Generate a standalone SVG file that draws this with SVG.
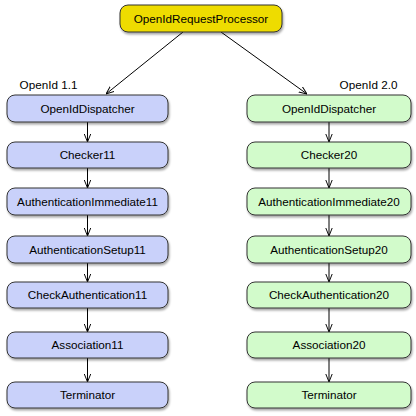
<svg xmlns="http://www.w3.org/2000/svg" width="416" height="416" viewBox="0 0 416 416">
<defs>
<filter id="sh" x="-10%" y="-20%" width="120%" height="160%">
<feDropShadow dx="1" dy="2" stdDeviation="1.2" flood-color="#000" flood-opacity="0.35"/>
</filter>
<marker id="ah" viewBox="0 0 10 10" refX="10" refY="5" markerWidth="8" markerHeight="8" markerUnits="userSpaceOnUse" orient="auto">
<path d="M0,1 L10,5 L0,9" fill="none" stroke="#000" stroke-width="1.2"/>
</marker>
<style>
.n rect{stroke:#333;stroke-width:1;filter:url(#sh)}
.b rect{fill:#c9d1fa}
.g rect{fill:#d2fbcb}
.y rect{fill:#eedc00}
text{font-family:"Liberation Sans",Arial,sans-serif;font-size:11.7px;fill:#000;text-anchor:middle}
#edges line{stroke:#000;stroke-width:1;marker-end:url(#ah)}
</style>
</defs>
<rect width="416" height="416" fill="#fff"/>
<g id="edges">
<line x1="183" y1="32" x2="106" y2="94"/>
<line x1="221" y1="32" x2="307" y2="94"/>
<line x1="87.5" y1="122" x2="87.5" y2="142"/>
<line x1="87.5" y1="168" x2="87.5" y2="188"/>
<line x1="87.5" y1="215" x2="87.5" y2="236"/>
<line x1="87.5" y1="263" x2="87.5" y2="282"/>
<line x1="87.5" y1="308" x2="87.5" y2="332"/>
<line x1="87.5" y1="358" x2="87.5" y2="382"/>
<line x1="329" y1="122" x2="329" y2="142"/>
<line x1="329" y1="168" x2="329" y2="188"/>
<line x1="329" y1="215" x2="329" y2="236"/>
<line x1="329" y1="263" x2="329" y2="282"/>
<line x1="329" y1="308" x2="329" y2="332"/>
<line x1="329" y1="358" x2="329" y2="382"/>
</g>
<g id="OpenIdRequestProcessor" class="n y"><rect x="120" y="5" width="162" height="27" rx="8"/><text x="201" y="22.5">OpenIdRequestProcessor</text></g>
<text x="48.5" y="89">OpenId 1.1</text>
<text x="368.5" y="89">OpenId 2.0</text>
<g id="OpenIdDispatcher11" class="n b"><rect x="7" y="95" width="161" height="27" rx="8"/><text x="87.5" y="112.5">OpenIdDispatcher</text></g>
<g id="Checker11" class="n b"><rect x="7" y="142" width="161" height="26" rx="8"/><text x="87.5" y="159">Checker11</text></g>
<g id="AuthenticationImmediate11" class="n b"><rect x="7" y="188" width="161" height="27" rx="8"/><text x="87.5" y="205.5">AuthenticationImmediate11</text></g>
<g id="AuthenticationSetup11" class="n b"><rect x="7" y="236" width="161" height="27" rx="8"/><text x="87.5" y="253.5">AuthenticationSetup11</text></g>
<g id="CheckAuthentication11" class="n b"><rect x="7" y="282" width="161" height="26" rx="8"/><text x="87.5" y="299">CheckAuthentication11</text></g>
<g id="Association11" class="n b"><rect x="7" y="332" width="161" height="26" rx="8"/><text x="87.5" y="349">Association11</text></g>
<g id="Terminator11" class="n b"><rect x="7" y="382" width="161" height="26" rx="8"/><text x="87.5" y="399">Terminator</text></g>
<g id="OpenIdDispatcher20" class="n g"><rect x="247" y="95" width="164" height="27" rx="8"/><text x="329" y="112.5">OpenIdDispatcher</text></g>
<g id="Checker20" class="n g"><rect x="247" y="142" width="164" height="26" rx="8"/><text x="329" y="159">Checker20</text></g>
<g id="AuthenticationImmediate20" class="n g"><rect x="247" y="188" width="164" height="27" rx="8"/><text x="329" y="205.5">AuthenticationImmediate20</text></g>
<g id="AuthenticationSetup20" class="n g"><rect x="247" y="236" width="164" height="27" rx="8"/><text x="329" y="253.5">AuthenticationSetup20</text></g>
<g id="CheckAuthentication20" class="n g"><rect x="247" y="282" width="164" height="26" rx="8"/><text x="329" y="299">CheckAuthentication20</text></g>
<g id="Association20" class="n g"><rect x="247" y="332" width="164" height="26" rx="8"/><text x="329" y="349">Association20</text></g>
<g id="Terminator20" class="n g"><rect x="247" y="382" width="164" height="26" rx="8"/><text x="329" y="399">Terminator</text></g>
</svg>
